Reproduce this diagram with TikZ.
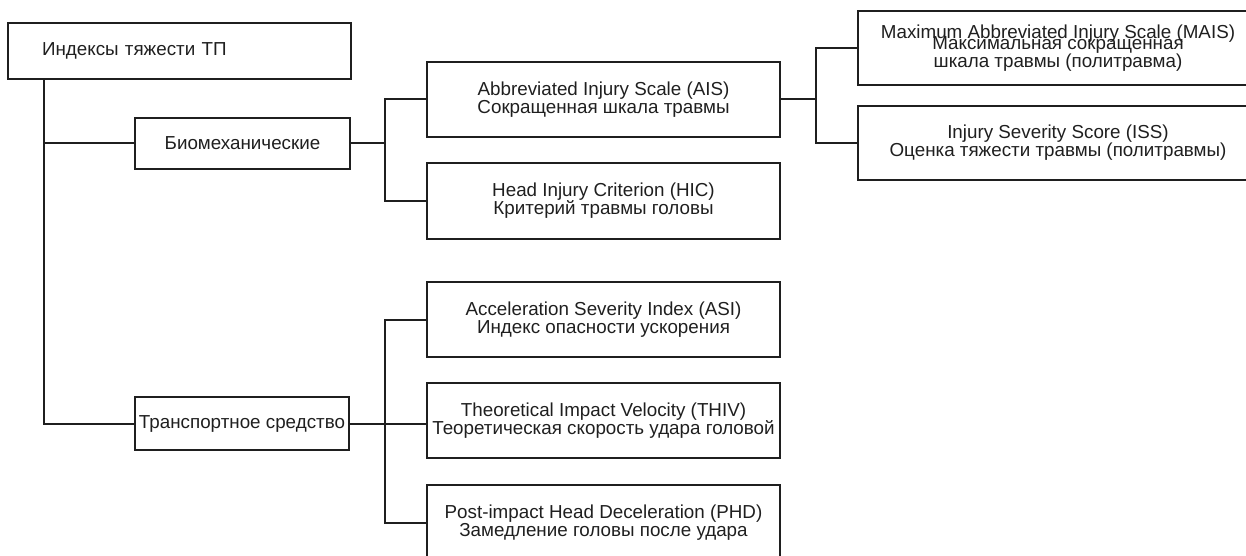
\documentclass[tikz,border=0pt]{standalone}
\usepackage{fontspec}
\setmainfont{Liberation Sans}
\begin{document}
\begin{tikzpicture}[x=1pt,y=-1pt,line width=2pt,color=black!88]
\tikzstyle{every node}=[draw,inner sep=0pt,align=center,font=\fontsize{18.8}{18}\selectfont]
\useasboundingbox (0,0) rectangle (1246,556);
\node[minimum height=56pt,text width=275pt,inner xsep=34pt,align=left](root) at (179.5,51) {Индексы тяжести ТП};
\node[minimum width=215pt,minimum height=51pt](bio) at (242.5,143.5) {Биомеханические};
\node[minimum width=214pt,minimum height=53pt](veh) at (242,423.5) {Транспортное средство};
\node[minimum width=353pt,minimum height=75pt](ais) at (603.5,99.5) {Abbreviated Injury Scale (AIS)\\Сокращенная шкала травмы};
\node[minimum width=353pt,minimum height=75pt](hic) at (603.5,201) {Head Injury Criterion (HIC)\\Критерий травмы головы};
\node[minimum width=353pt,minimum height=75pt](asi) at (603.5,319.5) {Acceleration Severity Index (ASI)\\Индекс опасности ускорения};
\node[minimum width=353pt,minimum height=75pt](thiv) at (603.5,420.5) {Theoretical Impact Velocity (THIV)\\Теоретическая скорость удара головой};
\node[minimum width=353pt,minimum height=75pt](phd) at (603.5,522.5) {Post-impact Head Deceleration (PHD)\\Замедление головы после удара};
\node[minimum width=400pt,minimum height=74pt](mais) at (1058,48.5) {Maximum Abbreviated Injury Scale (MAIS)\\[-7pt]Максимальная сокращенная\\шкала травмы (политравма)};
\node[minimum width=400pt,minimum height=74pt](iss) at (1058,143) {Injury Severity Score (ISS)\\Оценка тяжести травмы (политравмы)};
\coordinate (trunk) at (44,0);
\coordinate (b1) at (385,0);
\coordinate (b2) at (816,0);
% main trunk
\draw (root.south -| trunk) |- (veh.west);
\draw (trunk |- bio.west) -- (bio.west);
% biomechanical group
\draw (bio.east) -- (b1 |- bio.east);
\draw (ais.west) -| (b1 |- hic.west) -- (hic.west);
\draw (ais.east) -- (b2 |- ais.east);
\draw (mais.west) -| (b2 |- iss.west) -- (iss.west);
% vehicle group
\draw (veh.east) -- (thiv.west |- veh.east);
\draw (asi.west) -| (b1 |- phd.west) -- (phd.west);
\end{tikzpicture}
\end{document}
